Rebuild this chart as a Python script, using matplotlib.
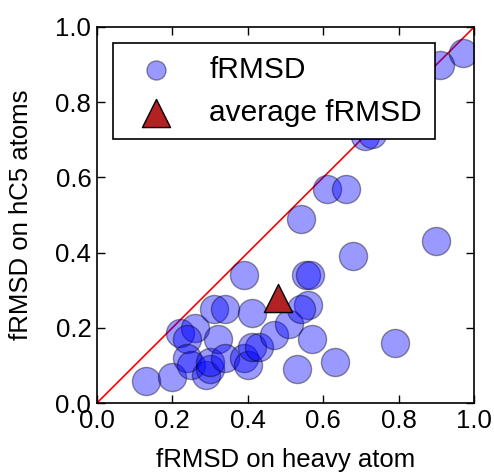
"""
fRMSD on heavy atoms vs fRMSD on hC5 atoms, with the average point.
"""

import numpy as np
import matplotlib
matplotlib.use('Agg')
import matplotlib.pyplot as plt

plt.rcParams['font.family'] = ['Liberation Sans', 'DejaVu Sans']

# values
heavy = [0.13, 0.20, 0.22, 0.26, 0.24, 0.24, 0.25, 0.29, 0.30, 0.30,
         0.31, 0.34, 0.32, 0.34, 0.39, 0.41, 0.39, 0.40, 0.41, 0.43,
         0.47, 0.51, 0.53, 0.54, 0.555, 0.565, 0.56, 0.54, 0.57, 0.79,
         0.63, 0.90, 0.68, 0.61, 0.66, 0.71, 0.73, 0.91, 0.97]
hc5 = [0.06, 0.07, 0.185, 0.20, 0.17, 0.12, 0.10, 0.075, 0.09, 0.11,
       0.25, 0.25, 0.17, 0.12, 0.34, 0.24, 0.12, 0.10, 0.15, 0.15,
       0.18, 0.21, 0.09, 0.49, 0.34, 0.34, 0.26, 0.25, 0.17, 0.16,
       0.11, 0.43, 0.39, 0.57, 0.57, 0.71, 0.715, 0.90, 0.93]
avg_heavy = [0.48]
avg_hc5 = [0.28]

fig = plt.figure(figsize=(4.94, 4.72), dpi=100)
ax = fig.add_axes([0.196, 0.146, 0.764, 0.797])

ax.plot([0, 1], [0, 1], 'r-', lw=1.2, zorder=1)
ax.scatter(heavy, hc5, s=410, c='b', alpha=0.4, edgecolors='k',
           linewidths=1, label='fRMSD', zorder=2)
ax.scatter(avg_heavy, avg_hc5, s=410, marker='^', c='firebrick',
           edgecolors='k', linewidths=1, label='average fRMSD', zorder=3)

ax.set_xlim(0, 1)
ax.set_ylim(0, 1)
ax.set_xticks(np.arange(0, 1.01, 0.2))
ax.set_yticks(np.arange(0, 1.01, 0.2))
ax.tick_params(direction='in', top=True, right=True, length=6, width=1,
               labelsize=18.5, pad=4)
ax.set_xlabel('fRMSD on heavy atom', fontsize=18.5, labelpad=11)
ax.set_ylabel('fRMSD on hC5 atoms', fontsize=18.5, labelpad=16)
for sp in ax.spines.values():
    sp.set_linewidth(1.2)

leg = ax.legend(loc='upper left', fontsize=21.5, scatterpoints=1,
                fancybox=False, edgecolor='k', framealpha=1,
                handletextpad=0.8, borderaxespad=0.55, borderpad=0.42,
                labelspacing=0.5)
leg.get_frame().set_linewidth(1.2)
leg.legend_handles[0].set_sizes([190])

fig.savefig('out.png', dpi=100)
